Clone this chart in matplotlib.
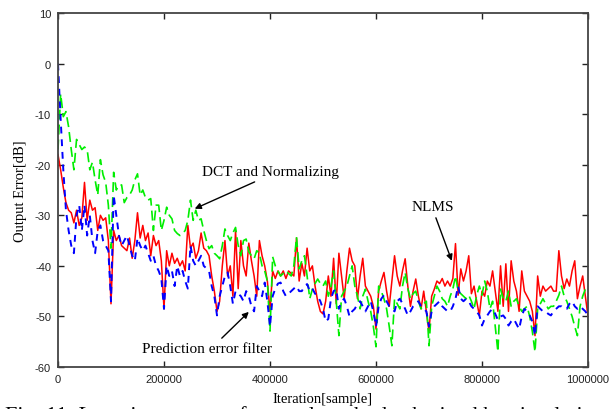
import numpy as np
import matplotlib
matplotlib.use('Agg')
import matplotlib.pyplot as plt

plt.rcParams['axes.unicode_minus'] = False

# --- DATA (one value every 5000 samples, 0 .. 1000000) ---
STEP = 5000

nlms = [
    -18, -21, -24.5, -27.5, -29, -29.5, -31.5, -29, -32, -30.5, -23.5, -31, -27, -29, -28.5, -33, -30, -31, -30.5, -35,
    -47.5, -33, -35, -34, -36, -36.5, -37, -34.5, -38.5, -35, -29.5, -34.5, -32, -35, -33.5, -38, -34, -36, -35, -39,
    -48.5, -37, -40, -37.5, -39.5, -38.5, -40, -39, -41, -32, -36.5, -35.5, -38.5, -37, -33.5, -36.5, -37, -38, -42, -45,
    -49, -47, -40, -35, -42, -40, -46, -33, -44.5, -35, -40, -42, -35.5, -39, -42, -46, -35, -38, -40, -43,
    -49, -41, -42.5, -41, -42, -41, -42.5, -41, -41.5, -42, -34.5, -43, -39.5, -42, -36.5, -41, -40, -44, -47, -49,
    -49.5, -47, -42, -46, -38.5, -47.5, -37.5, -42, -46.5, -41, -36.5, -39, -40, -46.5, -42, -38.5, -44, -45, -46, -48,
    -52.5, -45, -43, -41.3, -45, -48, -43, -38, -42, -44, -41, -38.6, -44, -48, -45, -42.6, -46, -48.5, -45, -49,
    -53, -46, -44.6, -43, -43.5, -42.5, -44, -43, -44, -42.5, -35.6, -45.8, -40.6, -43, -41, -38, -45.5, -44, -47, -49.8,
    -45, -46, -43, -44, -41, -45, -49, -40, -48, -39.6, -49, -39, -43, -45, -49, -41, -45, -46, -47, -49,
    -53.8, -42, -46, -44, -45, -44.5, -44, -45, -45, -37, -42, -44.5, -42.6, -44, -41, -39, -46.5, -44, -42, -46,
    -50,
]

dct_norm = [
    -17, -6, -10.5, -9.5, -12.5, -17, -21, -15, -16, -17, -16.5, -17, -21, -19.5, -23, -26, -19, -22, -23.5, -28,
    -36.5, -21.5, -25, -24, -24, -27.5, -26.5, -26, -25, -23, -21.8, -26, -25, -26.5, -27, -26.7, -33, -28, -28, -33,
    -31, -28.4, -30, -30.7, -33, -33.6, -34, -33.6, -33, -31, -27, -31, -29, -31, -30.7, -33, -35, -36.6, -36, -37.5,
    -38, -38.6, -36, -32.7, -34, -35, -33.5, -32.4, -36, -38, -35, -34.7, -37.2, -38, -38.6, -37, -37.5, -40, -41, -43,
    -52.9, -38.2, -40, -41, -42, -41.5, -41, -41.5, -42, -40, -34.3, -40.6, -39, -38, -42, -46.5, -44.6, -43.5, -42.6, -43.5,
    -44, -43, -46, -44, -41, -47, -53.8, -46, -45, -44, -42, -40, -44, -46, -48.5, -46, -44.6, -47, -49, -52,
    -56, -44, -45, -46.5, -48.5, -52, -55.8, -46.5, -47.5, -48.5, -44, -41.3, -44.5, -46.5, -45.5, -45, -47, -48.5, -47.5, -47,
    -55.8, -48, -46, -44, -45, -46.5, -47, -48, -46, -44.6, -42, -45, -45.5, -46, -46.5, -45.8, -47, -48.5, -45.8, -44,
    -45.8, -43, -45, -48.5, -47, -52, -57, -44.6, -46.5, -47, -45, -48, -47, -46.5, -48, -49, -48.5, -48, -50, -53,
    -57, -48.5, -47.5, -46.5, -47.5, -48.5, -48, -48, -47, -45.8, -44, -46, -47, -48.5, -50, -52, -53.8, -48, -46, -44.6,
    -44.5,
]

pred_err = [
    0, -11, -21, -29, -33, -36, -37.5, -30, -28, -33, -28, -34, -30, -35, -37.5, -33, -32, -35, -36, -37,
    -47, -26, -30, -34, -36, -35, -34, -36, -38, -39, -34.5, -36, -37, -36, -37.5, -39, -38, -40, -41, -42.5,
    -48.5, -40, -42, -41, -44, -40, -42, -41, -43, -44.5, -36, -39, -40, -39, -38, -40, -40.5, -41, -44, -46,
    -49.8, -46, -44, -42, -41.3, -44, -47.5, -45, -45.5, -46, -47, -45, -46, -48, -49, -44, -45, -46, -43.3, -47,
    -52, -46, -44.5, -43.5, -43.3, -45, -46, -45.5, -45, -44.5, -44, -45, -45, -44, -43.6, -45, -44.5, -45.5, -46, -47,
    -48.5, -51, -50.5, -46.5, -45, -44.6, -48.5, -47, -46.5, -48, -50, -49, -48.5, -47.5, -47, -48, -49, -48, -47, -49,
    -52, -48, -46.5, -45.8, -47, -48, -48.5, -49, -47, -46.5, -47.5, -48.5, -49.8, -49, -48, -47.5, -47, -48, -48.5, -49,
    -52, -49, -48, -47.5, -47, -48, -48.5, -49, -49, -48, -46.5, -44, -46.5, -47, -46.5, -47, -48, -48.5, -49, -49.8,
    -51.8, -50.5, -49.8, -49, -48.5, -49.5, -50.7, -50, -49.8, -50.5, -51.8, -51, -50.5, -51.5, -52.5, -50, -48.5, -49, -49.8, -51,
    -53.8, -48, -48.5, -49, -49, -49.5, -49.8, -49, -48.5, -48, -48, -48.5, -48.5, -47.5, -47, -48, -48.5, -48, -48.5, -49,
    -49.8,
]

iters = np.arange(len(nlms)) * STEP

xticks = [0, 200000, 400000, 600000, 800000, 1000000]
yticks = [10, 0, -10, -20, -30, -40, -50, -60]

serif = ['Liberation Serif', 'DejaVu Serif']
sans = ['Liberation Sans', 'DejaVu Sans']

fig = plt.figure(figsize=(6.09, 4.10), dpi=100)
ax = fig.add_axes([58 / 609, 1 - 368 / 410, 530 / 609, 354 / 410])

ax.plot(iters, nlms, color='#ff0000', lw=1.1)
ax.plot(iters, dct_norm, color='#00ee00', lw=1.2, dashes=(6, 3))
ax.plot(iters, pred_err, color='#0000ff', lw=1.4, dashes=(3.5, 3))

ax.set_xlim(0, 1000000)
ax.set_ylim(-60, 10)
ax.set_xticks(xticks)
ax.set_xticklabels([str(t) for t in xticks], family=sans, fontsize=8, color='#333333')
ax.set_yticks(yticks)
ax.set_yticklabels([str(t) for t in yticks], family=sans, fontsize=8, color='#333333')
ax.tick_params(direction='in', length=4, width=1, top=True, right=True, pad=5, colors='#222222')
for s in ax.spines.values():
    s.set_color('#444444')
    s.set_linewidth(1.3)

ax.set_xlabel('Iteration[sample]', family=serif, fontsize=10.5, labelpad=6)
ax.set_ylabel('Output Error[dB]', family=serif, fontsize=10.5, labelpad=6)

arrow = dict(arrowstyle='-|>', color='black', lw=1, mutation_scale=9, shrinkA=0, shrinkB=0)
ax.text(401000, -21.4, 'DCT and Normalizing', family=serif, fontsize=11, ha='center', va='center')
ax.annotate('', xy=(258000, -28.7), xytext=(371000, -23.4), arrowprops=arrow)
ax.text(707000, -28.3, 'NLMS', family=serif, fontsize=11, ha='center', va='center')
ax.annotate('', xy=(743000, -39), xytext=(713000, -30.5), arrowprops=arrow)
ax.text(281000, -56.4, 'Prediction error filter', family=serif, fontsize=11, ha='center', va='center')
ax.annotate('', xy=(360000, -49.1), xytext=(309000, -54.3), arrowprops=arrow)

# caption, cut off at the bottom of the image
fig.text(5 / 609, 1 - 421 / 410, 'Fig. 11  Learning curves of several methods obtained by simulation',
         family=serif, fontsize=16, ha='left', va='baseline')

fig.savefig('out.png', dpi=100)
